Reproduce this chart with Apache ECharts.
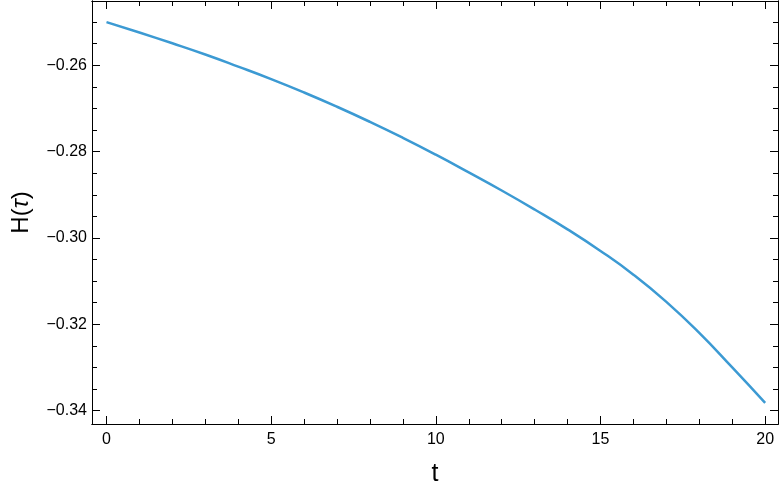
<!DOCTYPE html>
<html>
<head>
<meta charset="utf-8">
<script src="https://cdn.jsdelivr.net/npm/echarts@6/dist/echarts.min.js"></script>
<style>
  html, body { margin: 0; padding: 0; background: #fff; }
  #chart { width: 780px; height: 492px; }
</style>
</head>
<body>
<div id="chart"></div>
<script>
// data
var tValues = [0, 1, 2, 3, 4, 5, 6, 7, 8, 9, 10, 11, 12, 13, 14, 15, 16, 17, 18, 19, 20]
var hValues = [-0.2500, -0.2524, -0.2549, -0.2575, -0.2603, -0.2632, -0.2663, -0.2696, -0.2731, -0.2768,
               -0.2807, -0.2848, -0.2890, -0.2934, -0.2980, -0.3030, -0.3085, -0.3148, -0.3220, -0.3300, -0.3382]
var xMajor = [0, 5, 10, 15, 20]
var xMinor = [1, 2, 3, 4, 6, 7, 8, 9, 11, 12, 13, 14, 16, 17, 18, 19]
var yMajor = [-0.34, -0.32, -0.30, -0.28, -0.26]
var yMinor = [-0.335, -0.33, -0.325, -0.315, -0.31, -0.305, -0.295, -0.29, -0.285,
              -0.275, -0.27, -0.265, -0.255, -0.25, -0.245]

var X_MIN = -0.44, X_MAX = 20.39
var Y_MIN = -0.3431, Y_MAX = -0.2451
var FONT = 'Liberation Sans, Arial, sans-serif'

function fmtY(v) {
  var s = Math.abs(v).toFixed(2)
  return (v < 0 ? '\u2212' : '') + s
}

function xAxisOf(pos, ticks, len, withLabels) {
  return {
    type: 'value', position: pos, min: X_MIN, max: X_MAX,
    axisLine: { show: true, onZero: false, lineStyle: { color: '#000', width: 1 } },
    axisTick: { show: true, inside: true, length: len, customValues: ticks, lineStyle: { color: '#000', width: 1 } },
    axisLabel: withLabels ? { show: true, customValues: ticks, margin: 8, fontSize: 16, color: '#000', fontFamily: FONT } : { show: false },
    splitLine: { show: false },
    name: withLabels ? 't' : '',
    nameLocation: 'middle', nameGap: 38,
    nameTextStyle: { fontSize: 25, color: '#000', fontFamily: FONT }
  }
}

function yAxisOf(pos, ticks, len, withLabels) {
  return {
    type: 'value', position: pos, min: Y_MIN, max: Y_MAX,
    axisLine: { show: true, onZero: false, lineStyle: { color: '#000', width: 1 } },
    axisTick: { show: true, inside: true, length: len, customValues: ticks, lineStyle: { color: '#000', width: 1 } },
    axisLabel: withLabels ? { show: true, customValues: ticks, margin: 5, fontSize: 16, color: '#000', fontFamily: FONT, formatter: fmtY } : { show: false },
    splitLine: { show: false },
    name: withLabels ? 'H({i|\u03c4})' : '',
    nameLocation: 'middle', nameGap: 59, nameRotate: 90,
    nameTextStyle: {
      fontSize: 24, color: '#000', fontFamily: FONT,
      rich: { i: { fontSize: 24, fontStyle: 'italic', color: '#000', fontFamily: FONT } }
    }
  }
}

var chart = echarts.init(document.getElementById('chart'))
var option = {
  backgroundColor: '#fff',
  animation: false,
  grid: { left: 92, right: 2, top: 1, bottom: 67, containLabel: false },
  xAxis: [
    xAxisOf('bottom', xMajor, 8, true),
    xAxisOf('bottom', xMinor, 5, false),
    xAxisOf('top', xMajor, 8, false),
    xAxisOf('top', xMinor, 5, false)
  ],
  yAxis: [
    yAxisOf('left', yMajor, 8, true),
    yAxisOf('left', yMinor, 5, false),
    yAxisOf('right', yMajor, 8, false),
    yAxisOf('right', yMinor, 5, false)
  ],
  series: [
    {
      type: 'line',
      xAxisIndex: 0,
      yAxisIndex: 0,
      data: tValues.map(function (t, i) { return [t, hValues[i]] }),
      smooth: 0.5,
      showSymbol: false,
      lineStyle: { color: '#3c9ad3', width: 2.5 }
    }
  ]
}
chart.setOption(option)
</script>
</body>
</html>
